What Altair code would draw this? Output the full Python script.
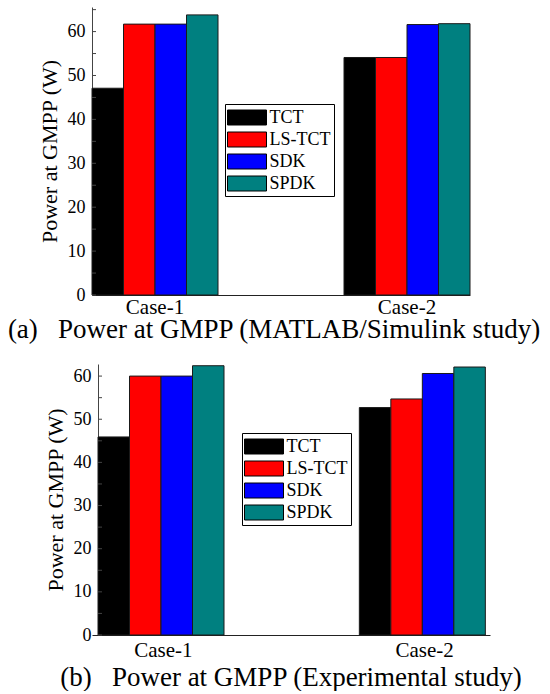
import altair as alt
import pandas as pd

# ---------------- data ----------------
cases = ["Case-1", "Case-2"]
series = ["TCT", "LS-TCT", "SDK", "SPDK"]
colors = ["#000000", "#ff0000", "#0000ff", "#008080"]

# (a) MATLAB/Simulink study
sim_tct = [47.1, 54.1]
sim_lstct = [61.7, 54.1]
sim_sdk = [61.7, 61.6]
sim_spdk = [63.8, 61.8]

# (b) Experimental study
exp_tct = [45.9, 52.7]
exp_lstct = [60.0, 54.7]
exp_sdk = [60.0, 60.6]
exp_spdk = [62.4, 62.1]

y_label_values = [0, 10, 20, 30, 40, 50, 60]
y_tick_values = [0, 5, 10, 15, 20, 25, 30, 35, 40, 45, 50, 55, 60, 65]

sim_ymax = 65.6
exp_ymax = 62.8

caption_a = "(a)\u00a0\u00a0\u00a0Power at GMPP (MATLAB/Simulink study)"
caption_b = "(b)\u00a0\u00a0\u00a0Power at GMPP (Experimental study)"
y_title = "Power at GMPP (W)"

FONT = "Liberation Serif"
RECT = "M-1.95,-0.75H1.95V0.75H-1.95Z"


def make_df(vals_by_series):
    rows = []
    for s, vals in zip(series, vals_by_series):
        for c, v in zip(cases, vals):
            rows.append({"case": c, "series": s, "power": v})
    return pd.DataFrame(rows)


def panel(df, ymax, w, h, caption, lx, ly, title_pad, x_label_pad, cap_offset, cap_dx,
          outer_pad, y_offset):
    yscale = alt.Scale(domain=[0, ymax], nice=False)
    yaxis = alt.Axis(title=y_title, values=y_label_values, ticks=False, grid=False,
                     labelFontSize=18, titleFontSize=22, titleFontWeight="normal",
                     labelPadding=7, titlePadding=title_pad, domainColor="#444",
                     labelColor="black", titleColor="black", labelFont=FONT,
                     titleFont=FONT, offset=y_offset)
    bars = alt.Chart(df).mark_bar(stroke="#1a1a1a", strokeWidth=1).encode(
        x=alt.X("case:N", sort=cases,
                scale=alt.Scale(paddingInner=0.5, paddingOuter=outer_pad, align=1),
                axis=alt.Axis(title=None, labelAngle=0, labelFontSize=21, ticks=False,
                              labelPadding=x_label_pad, domainColor="#222",
                              labelColor="black", labelFont=FONT)),
        xOffset=alt.XOffset("series:N", sort=series,
                            scale=alt.Scale(paddingInner=0, paddingOuter=0)),
        y=alt.Y("power:Q", scale=yscale, axis=yaxis),
        color=alt.Color("series:N", sort=series,
                        scale=alt.Scale(domain=series, range=colors),
                        legend=alt.Legend(title=None, orient="none", legendX=lx, legendY=ly,
                                          symbolType=RECT, symbolSize=400,
                                          symbolOffset=8.5,
                                          symbolStrokeColor="black", symbolStrokeWidth=1,
                                          symbolOpacity=1, labelFontSize=18, labelFont=FONT,
                                          labelOffset=12, strokeColor="black",
                                          fillColor="white", padding=3, rowPadding=2,
                                          labelColor="black")),
    )
    ticks_df = pd.DataFrame({"power": [t for t in y_tick_values if t <= ymax]})
    tick_rules = alt.Chart(ticks_df).mark_rule(color="#444", strokeWidth=1).encode(
        y=alt.Y("power:Q", scale=yscale, axis=yaxis),
        x=alt.value(-y_offset), x2=alt.value(-y_offset + 4),
    )
    return alt.layer(bars, tick_rules).properties(
        width=w, height=h,
        title=alt.TitleParams(caption, orient="bottom", anchor="middle", fontSize=27,
                              fontWeight="normal", font=FONT, offset=cap_offset,
                              dx=cap_dx, color="black"),
    )


df_sim = make_df([sim_tct, sim_lstct, sim_sdk, sim_spdk])
df_exp = make_df([exp_tct, exp_lstct, exp_sdk, exp_spdk])

top = panel(df_sim, sim_ymax, 378, 288, caption_a, 133, 97, 6, 1, 0, -7, 0, 0)
bottom = panel(df_exp, exp_ymax, 398, 271, caption_b, 150, 69, 6, 4, 5, 0, 0.0115, -6)

chart = alt.vconcat(
    top,
    bottom,
    spacing=21,
).resolve_scale(color="independent").resolve_legend(color="independent").properties(
    padding={"left": 7, "top": 7, "right": 0, "bottom": 0},
    background="white",
).configure(font=FONT).configure_axis(
    labelFont=FONT, titleFont=FONT
).configure_legend(labelFont=FONT).configure_view(strokeWidth=0)

chart.save("out.html", embed_options={"renderer": "svg", "actions": False})
